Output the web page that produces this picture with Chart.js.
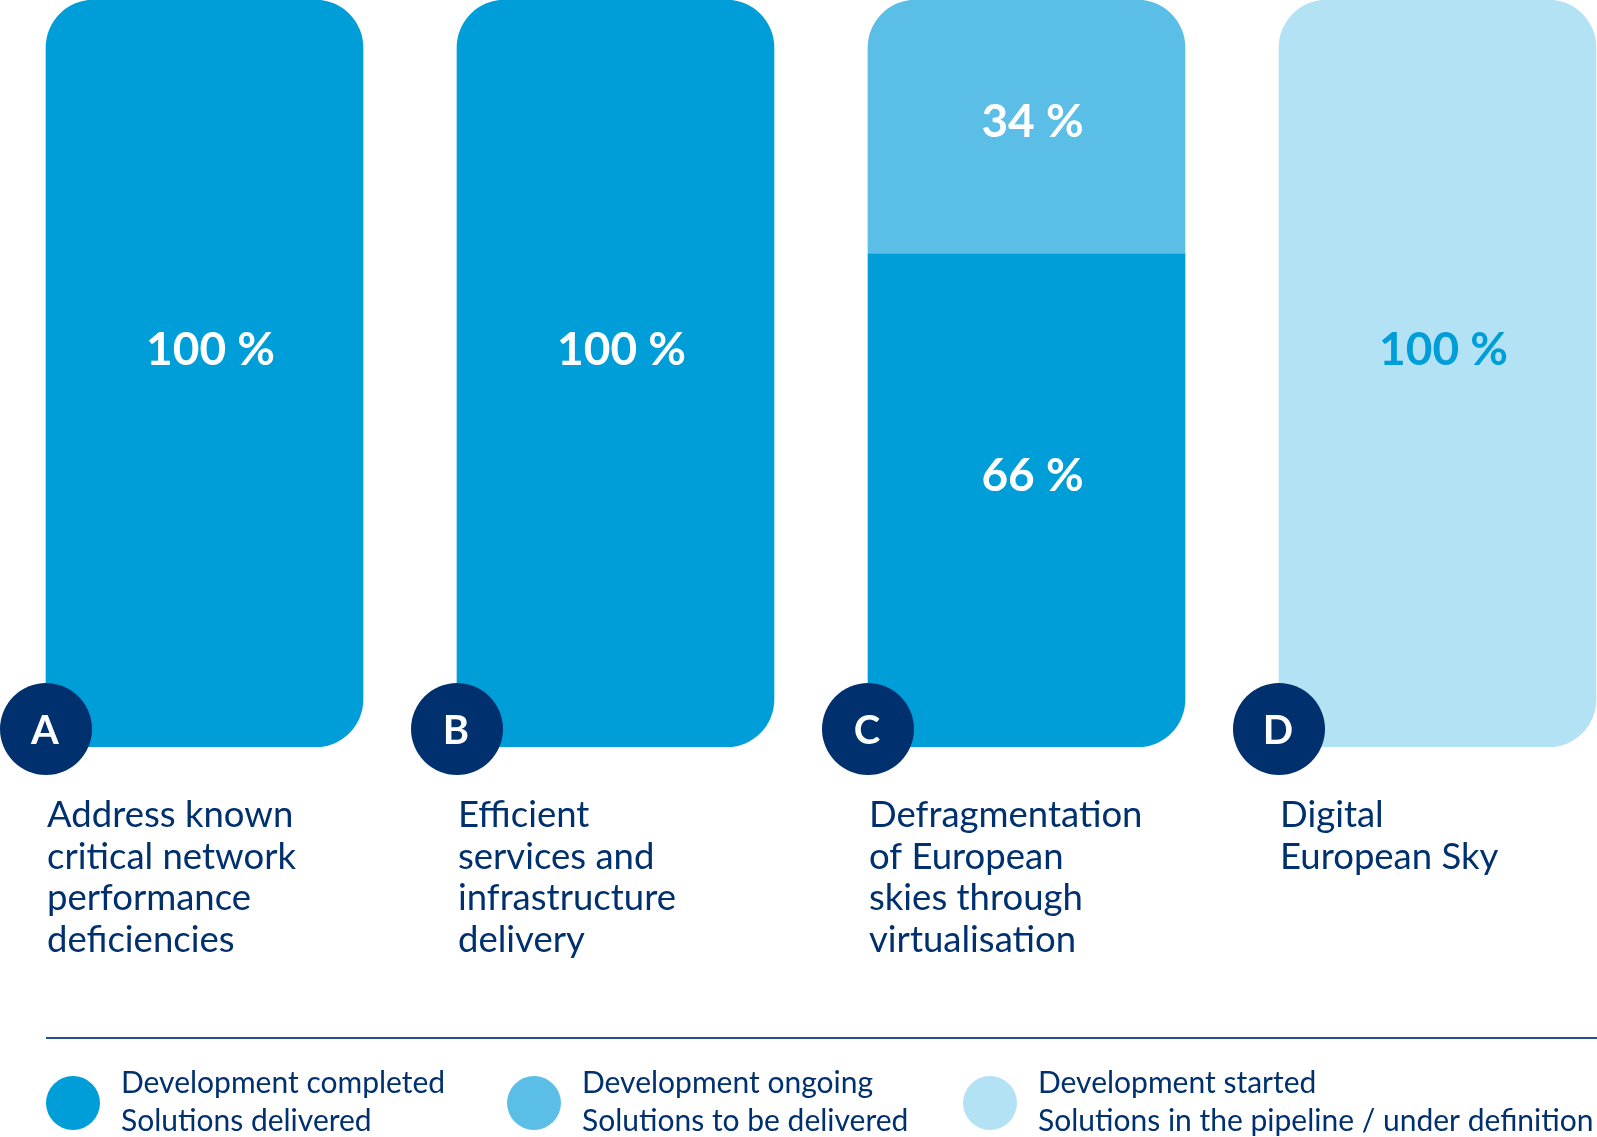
<!DOCTYPE html>
<html>
<head>
<meta charset="utf-8">
<script src="https://cdn.jsdelivr.net/npm/chart.js@4.4.0/dist/chart.umd.min.js"></script>
<style>
html, body { margin: 0; padding: 0; background: #fff; overflow: hidden; }
#wrap { position: relative; width: 1597px; height: 1137px; }
</style>
</head>
<body>
<div id="wrap"><canvas id="chart" width="1597" height="1137"></canvas></div>
<script>
const categories = ['A', 'B', 'C', 'D'];
const descriptions = [
    ['Address known', 'critical network', 'performance', 'deficiencies'],
    ['Efficient', 'services and', 'infrastructure', 'delivery'],
    ['Defragmentation', 'of European', 'skies through', 'virtualisation'],
    ['Digital', 'European Sky']
];
const completedValues = [100, 100, 66, 0];
const ongoingValues = [0, 0, 34, 0];
const startedValues = [0, 0, 0, 100];
const seriesNames = ['Development completed', 'Development ongoing', 'Development started'];
const seriesNotes = ['Solutions delivered', 'Solutions to be delivered', 'Solutions in the pipeline / under definition'];

const NAVY = '#00316e';
const BAR_W = 317;
const RADIUS = 48;

// 0 means "no segment" -> null so no empty bar gets drawn
const toPoints = values => values.map((v, i) => ({ x: i, y: v === 0 ? null : v }));

function cornerRadius(ctx) {
    const i = ctx.dataIndex;
    const di = ctx.datasetIndex;
    const sets = ctx.chart.data.datasets;
    const above = sets.some((d, k) => k > di && d.data[i].y);
    const below = sets.some((d, k) => k < di && d.data[i].y);
    return {
        topLeft: above ? 0 : RADIUS,
        topRight: above ? 0 : RADIUS,
        bottomRight: below ? 0 : RADIUS,
        bottomLeft: 0
    };
}

const overlayPlugin = {
    id: 'overlay',
    afterDatasetsDraw(chart) {
        const c = chart.ctx;
        const area = chart.chartArea;
        const xScale = chart.scales.x;

        // 数值标签
        chart.data.datasets.forEach((ds, di) => {
            const meta = chart.getDatasetMeta(di);
            meta.data.forEach((bar, i) => {
                const v = ds.data[i].y;
                if (!v) return;
                const mid = (bar.y + bar.base) / 2;
                c.save();
                c.fillStyle = ds.labelColor;
                c.font = 'bold 46px Lato';
                c.textAlign = 'center';
                c.textBaseline = 'alphabetic';
                c.fillText(v + ' %', bar.x + 6, mid + ds.labelShift);
                c.restore();
            });
        });

        // 圆形字母 + 描述
        categories.forEach((cat, i) => {
            const left = xScale.getPixelForValue(i) - BAR_W / 2;
            const cy = area.bottom - 18;
            c.save();
            c.beginPath();
            c.arc(left, cy, 46, 0, Math.PI * 2);
            c.fillStyle = NAVY;
            c.fill();
            c.fillStyle = '#fff';
            c.font = 'bold 40px Lato';
            c.textAlign = 'center';
            c.textBaseline = 'alphabetic';
            c.fillText(cat, left - 1, cy + 14.5);

            c.fillStyle = NAVY;
            c.font = '36.5px Lato';
            c.textAlign = 'left';
            descriptions[i].forEach((line, k) => {
                c.fillText(line, left + 1, area.bottom + 80 + k * 41.7);
            });
            c.restore();
        });

        // 图例
        c.save();
        c.strokeStyle = '#24508f';
        c.lineWidth = 2;
        c.beginPath();
        c.moveTo(46, 1038);
        c.lineTo(chart.width, 1038);
        c.stroke();
        const legendX = [46, 507, 963];
        chart.data.datasets.forEach((ds, di) => {
            const x = legendX[di];
            c.beginPath();
            c.arc(x + 27, 1103, 27, 0, Math.PI * 2);
            c.fillStyle = ds.backgroundColor;
            c.fill();
            c.fillStyle = NAVY;
            c.font = '30px Lato';
            c.textAlign = 'left';
            c.textBaseline = 'alphabetic';
            c.fillText(seriesNames[di], x + 75, 1093);
            c.fillText(seriesNotes[di], x + 75, 1131);
        });
        c.restore();
    }
};

new Chart(document.getElementById('chart'), {
    type: 'bar',
    data: {
        datasets: [
            {
                label: seriesNames[0],
                data: toPoints(completedValues),
                backgroundColor: '#009ed9',
                labelColor: '#ffffff',
                labelShift: -9
            },
            {
                label: seriesNames[1],
                data: toPoints(ongoingValues),
                backgroundColor: '#5bbee6',
                labelColor: '#ffffff',
                labelShift: 10
            },
            {
                label: seriesNames[2],
                data: toPoints(startedValues),
                backgroundColor: '#b3e2f4',
                labelColor: '#009ed9',
                labelShift: -9
            }
        ]
    },
    options: {
        responsive: false,
        animation: false,
        datasets: {
            bar: {
                barThickness: BAR_W,
                borderSkipped: false,
                borderWidth: 0,
                borderRadius: cornerRadius
            }
        },
        layout: { padding: { left: 0, right: 0, top: 0, bottom: 390 } },
        scales: {
            x: {
                type: 'linear', stacked: true, display: false, offset: false, grace: 0,
                min: -0.49757, max: 3.38808
            },
            y: { stacked: true, display: false, min: 0, max: 100 }
        },
        plugins: {
            legend: { display: false },
            tooltip: { enabled: false }
        }
    },
    plugins: [overlayPlugin]
});
</script>
</body>
</html>
